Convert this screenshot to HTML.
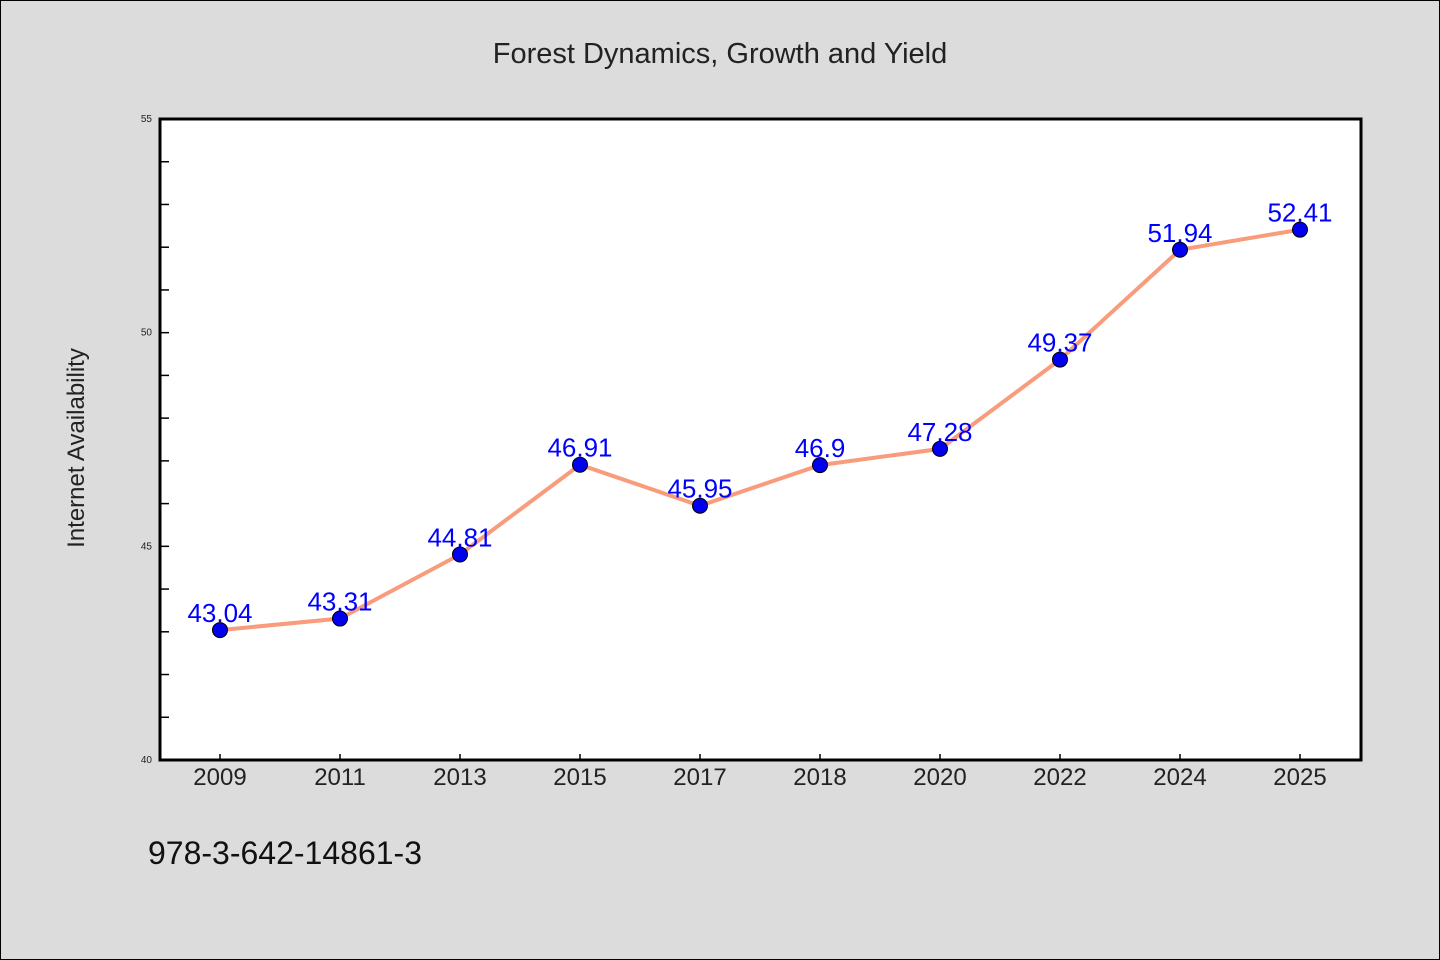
<!DOCTYPE html>
<html><head><meta charset="utf-8"><style>
body{margin:0;background:#dcdcdc}
svg{display:block;font-family:"WenQuanYi Zen Hei","Liberation Sans",sans-serif}
</style></head><body>
<svg id="c" width="1440" height="960">
<rect x="0.5" y="0.5" width="1439" height="959" fill="#dcdcdc" stroke="#000"/>
<text x="720" y="63" text-anchor="middle" font-size="29" fill="#222">Forest Dynamics, Growth and Yield</text>
<rect x="160" y="119" width="1201" height="641" fill="#fff"/>
<g id="ax"></g>
<rect x="160" y="119" width="1201" height="641" fill="none" stroke="#000" stroke-width="3"/>
<text transform="translate(84,448) rotate(-90)" text-anchor="middle" font-size="24" fill="#222">Internet Availability</text>
<text x="148" y="864" font-size="32" fill="#111">978-3-642-14861-3</text>
<g id="marks"></g>
</svg>
<script>
const categories=["2009","2011","2013","2015","2017","2018","2020","2022","2024","2025"];
const values=[43.04,43.31,44.81,46.91,45.95,46.9,47.28,49.37,51.94,52.41];
const labels=["43.04","43.31","44.81","46.91","45.95","46.9","47.28","49.37","51.94","52.41"];
const yTicks=[40,45,50,55];
const yMin=40,yMax=55;
const NS="http://www.w3.org/2000/svg";
const px0=160,pw=1201,py0=119,ph=641;
function x(i){return px0+60+i*120;}
function y(v){return py0+ph-(v-yMin)/(yMax-yMin)*ph;}
function mk(t,a,p){const e=document.createElementNS(NS,t);for(const k in a)e.setAttribute(k,a[k]);p.appendChild(e);return e;}
const ax=document.getElementById('ax'),mg=document.getElementById('marks');
for(let v=yMin;v<=yMax;v++){
 const t=mk('line',{x1:160,x2:169,y1:y(v),y2:y(v),stroke:'#000','stroke-width':1.5},ax);
 
 
}
yTicks.forEach(v=>{
 const t=mk('text',{x:152,y:y(v)+3,'text-anchor':'end','font-size':10,fill:'#222'},ax);
 t.textContent=v;
 
 
});
categories.forEach((c,i)=>{
 const t=mk('line',{x1:x(i),x2:x(i),y1:760,y2:754,stroke:'#000','stroke-width':1.5},ax);
 
 
 const l=mk('text',{x:x(i),y:785,'text-anchor':'middle','font-size':24,fill:'#222'},ax);
 l.textContent=c;
 
 
});
const line=mk('polyline',{points:values.map((v,i)=>x(i)+','+y(v)).join(' '),fill:'none',stroke:'#f89c7c','stroke-width':4},mg);


values.forEach((v,i)=>{
 const p=mk('circle',{cx:x(i),cy:y(v),r:7.5,fill:'#0000ee',stroke:'#000','stroke-width':1},mg);
 
 
 const t=mk('text',{x:x(i),y:y(v)-8,'text-anchor':'middle','font-size':26,fill:'#0000ff'},mg);
 t.textContent=labels[i];
 
 
});
</script>
</body></html>
